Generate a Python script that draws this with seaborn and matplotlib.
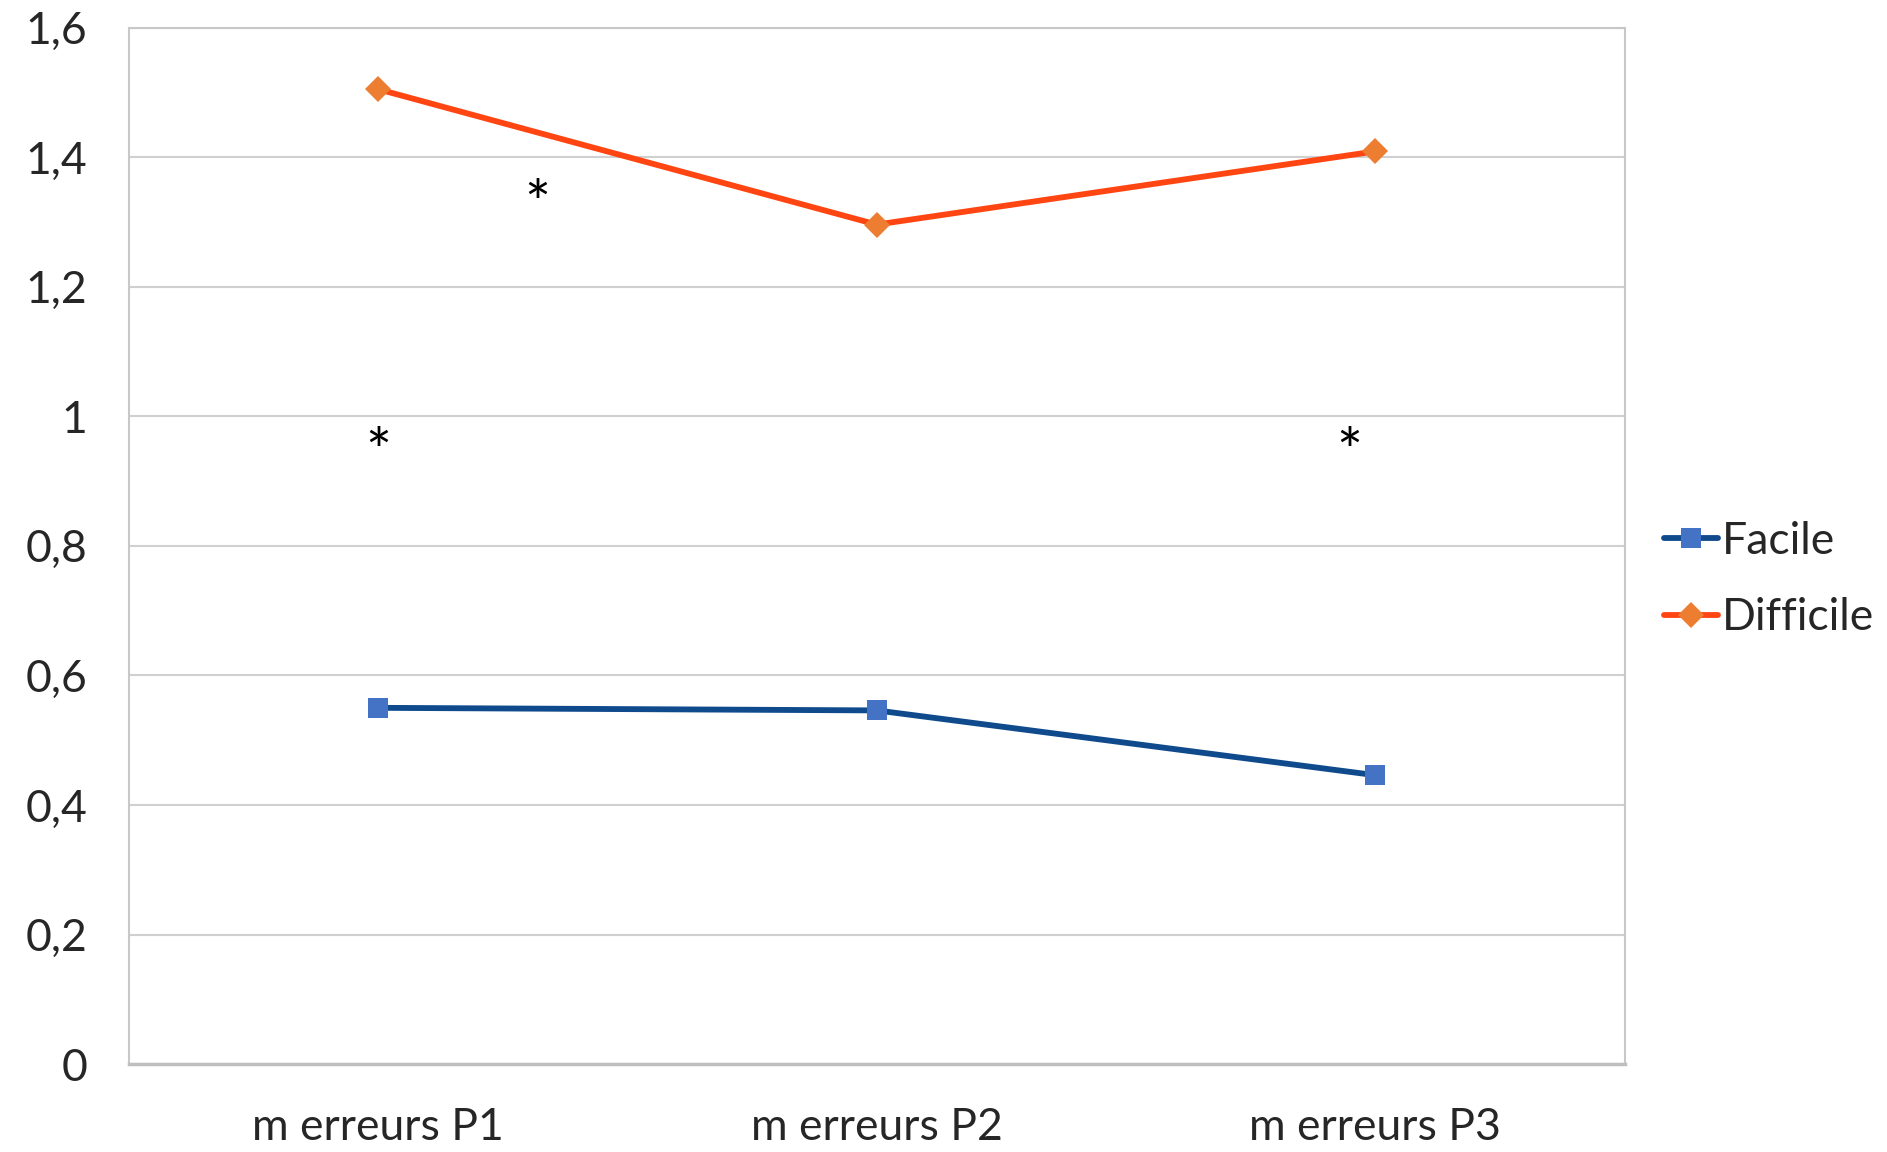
import pandas as pd
import seaborn as sns
from matplotlib import pyplot as plt
from matplotlib.lines import Line2D

categories = ["m erreurs P1", "m erreurs P2", "m erreurs P3"]
facile = [0.550, 0.546, 0.446]
difficile = [1.505, 1.296, 1.409]
y_ticks = [0, 0.2, 0.4, 0.6, 0.8, 1.0, 1.2, 1.4, 1.6]
y_labels = ["0", "0,2", "0,4", "0,6", "0,8", "1", "1,2", "1,4", "1,6"]
# asterisks: (x position in category units, y value)
stars = [(0.32, 1.322), (0.0, 0.939), (1.947, 0.939)]

line_colors = {"Facile": "#0F4A8C", "Difficile": "#FF4612"}
marker_colors = {"Facile": "#4472C4", "Difficile": "#ED7D31"}
markers = {"Facile": "s", "Difficile": "D"}


def get_data_frame():
    rows = []
    for name, values in [("Facile", facile), ("Difficile", difficile)]:
        for cat, v in zip(categories, values):
            rows.append({"cat": cat, "value": v, "groupe": name})
    return pd.DataFrame(rows)


df = get_data_frame()
sns.set_style("white")
plt.rcParams["font.family"] = ["Lato", "DejaVu Sans"]

fig = plt.figure(figsize=(18.87, 11.52), dpi=100)
ax = fig.add_axes([0.0682, 0.0763, 0.861 - 0.0682, 0.976 - 0.0763])

sns.lineplot(data=df, x="cat", y="value", hue="groupe", style="groupe",
             markers=markers, dashes=False, palette=line_colors, sort=False,
             linewidth=4.2, markersize=15, markeredgewidth=0, legend=False, ax=ax)

for line, name in zip(ax.lines, ["Facile", "Difficile"]):
    line.set_markerfacecolor(marker_colors[name])
    line.set_markeredgecolor(marker_colors[name])
    if name == "Difficile":
        line.set_markersize(13)

for x, y in stars:
    ax.text(x, y, "*", ha="center", va="center", fontsize=44, color="black")

ax.set_xlim(-0.5, 2.5)
ax.set_ylim(0, 1.6)
ax.set_yticks(y_ticks)
ax.set_yticklabels(y_labels)
ax.set_xlabel("")
ax.set_ylabel("")
ax.tick_params(axis="both", length=0, labelsize=32)
ax.tick_params(axis="x", pad=31)
ax.tick_params(axis="y", pad=30)
ax.grid(axis="y", color="#D0D0D0", linewidth=1.5)
ax.set_axisbelow(True)
for side in ["left", "right", "top"]:
    ax.spines[side].set_color("#C8C8C8")
    ax.spines[side].set_linewidth(1.5)
ax.spines["bottom"].set_color("#BFBFBF")
ax.spines["bottom"].set_linewidth(2.5)

handles = [Line2D([0], [0], color=line_colors[n], linewidth=4.2, marker=markers[n],
                  markersize=15 if n == "Facile" else 13,
                  markerfacecolor=marker_colors[n], markeredgewidth=0)
           for n in ["Facile", "Difficile"]]
fig.legend(handles, ["Facile", "Difficile"], loc="center left",
           bbox_to_anchor=(0.882, 0.497), frameon=False, fontsize=32,
           handlelength=1.2, handletextpad=0.1, labelspacing=0.8,
           borderpad=0, borderaxespad=0)

fig.savefig("out.png", dpi=100)
